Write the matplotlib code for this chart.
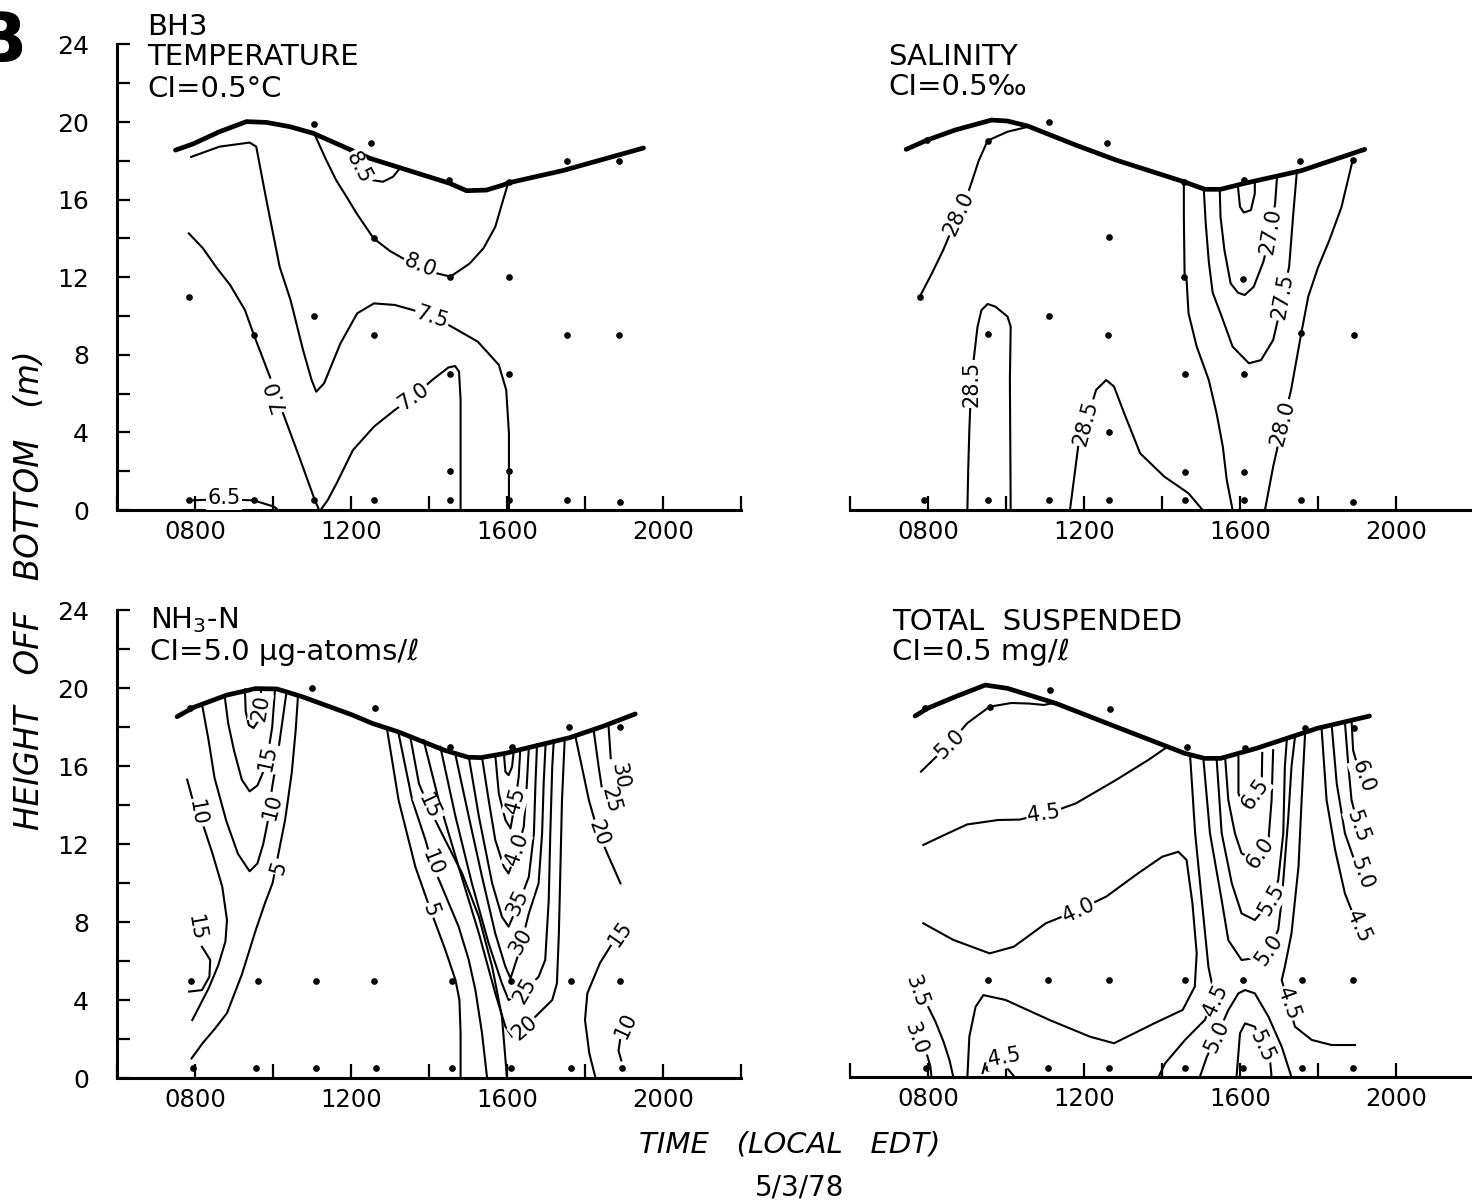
import numpy as np
import matplotlib.pyplot as plt

plt.rcParams['font.family'] = ['DejaVu Sans']

# ---------------- data (time in hours, height off bottom in m) ----------------
xtick_vals = [8, 12, 16, 20]
xtick_text = ['0800', '1200', '1600', '2000']
ytick_vals = [0, 4, 8, 12, 16, 20, 24]

# --- temperature panel
temp_title = ['BH3', 'TEMPERATURE', 'CI=0.5°C']
temp_surf_t = [7.5, 7.95, 8.63, 9.32, 9.83, 10.43, 11.03, 12.48, 14.53, 14.96, 15.47, 15.9, 16.03, 17.44, 19.5]
temp_surf_h = [18.55, 18.87, 19.5, 20.02, 19.98, 19.76, 19.42, 18.13, 16.84, 16.46, 16.49, 16.75, 16.86, 17.5, 18.66]
temp_dot_t = [7.85, 7.85, 9.5, 9.5, 11.05, 11.05, 11.05, 12.5, 12.6, 12.6, 12.6, 14.5, 14.55, 14.55, 14.55, 14.55,
              16.05, 16.05, 16.05, 16.05, 16.05, 17.53, 17.53, 17.53, 18.87, 18.87, 18.9]
temp_dot_h = [11.0, 0.5, 9.0, 0.5, 19.9, 10.0, 0.5, 18.9, 14.0, 9.0, 0.5, 17.0, 12.0, 7.0, 2.0, 0.5,
              16.9, 12.0, 7.0, 2.0, 0.5, 18.0, 9.0, 0.5, 18.0, 9.0, 0.4]
temp_85_t = [11.97, 12.1, 12.3, 12.56, 12.82, 13.08, 13.25]
temp_85_h = [18.5, 17.9, 17.3, 17.0, 16.92, 17.18, 17.6]
temp_80_t = [11.07, 11.35, 11.62, 11.9, 12.14, 12.58, 13.0, 13.33, 13.78, 14.2, 14.55, 15.04, 15.4, 15.7, 15.9, 16.03]
temp_80_h = [19.35, 18.1, 17.0, 16.1, 15.3, 14.0, 13.35, 12.97, 12.6, 12.2, 12.03, 12.7, 13.5, 14.6, 15.98, 16.86]
temp_75_t = [7.9, 8.63, 9.4, 9.57, 9.83, 10.17, 10.45, 10.77, 10.99, 11.11, 11.31, 11.73, 12.16, 12.59, 13.12,
             13.6, 14.08, 14.5, 15.25, 15.79, 15.98, 16.05, 16.05]
temp_75_h = [18.2, 18.73, 18.94, 18.73, 15.98, 12.54, 10.82, 8.25, 6.7, 6.1, 6.53, 8.59, 10.14, 10.65, 10.57,
             10.3, 9.95, 9.54, 8.68, 7.48, 6.19, 3.95, 0.0]
temp_70a_t = [7.84, 8.2, 8.55, 8.9, 9.28, 9.51, 9.92, 10.1, 10.29, 10.67, 11.04, 11.18]
temp_70a_h = [14.26, 13.5, 12.5, 11.6, 10.31, 9.02, 6.87, 5.85, 4.81, 2.75, 0.69, 0.0]
temp_70b_t = [11.22, 11.4, 11.63, 12.05, 12.59, 13.12, 13.55, 14.08, 14.5, 14.67, 14.77, 14.81, 14.81]
temp_70b_h = [0.0, 0.5, 1.37, 3.09, 4.3, 5.15, 5.75, 6.7, 7.35, 7.42, 7.13, 5.67, 0.0]
temp_65_t = [7.95, 8.6, 9.5, 10.03, 10.13]
temp_65_h = [0.5, 0.55, 0.5, 0.17, 0.0]
temp_labels = [('8.5', 12.2, 17.65, -62), ('8.0', 13.78, 12.6, -22), ('7.5', 14.08, 9.95, -18),
               ('7.0', 10.08, 5.9, 107), ('7.0', 13.6, 5.85, 35), ('6.5', 8.75, 0.6, 0)]

# --- salinity panel
sal_title = ['SALINITY', 'CI=0.5‰']
sal_surf_t = [7.44, 7.98, 8.7, 9.63, 10.04, 10.56, 11.79, 12.82, 14.56, 15.1, 15.5, 16.12, 17.57, 19.2]
sal_surf_h = [18.59, 19.07, 19.59, 20.1, 20.05, 19.79, 18.81, 18.04, 16.92, 16.53, 16.53, 16.84, 17.49, 18.59]
sal_dot_t = [7.8, 7.9, 7.98, 9.53, 9.55, 9.55, 11.1, 11.1, 11.1, 12.6, 12.65, 12.62, 12.65, 12.65,
             14.57, 14.57, 14.58, 14.6, 14.58, 16.1, 16.07, 16.09, 16.1, 16.1, 17.55, 17.57, 17.57, 18.9, 18.93, 18.9]
sal_dot_h = [11.0, 0.5, 19.05, 19.04, 9.05, 0.5, 20.0, 10.0, 0.5, 18.9, 14.05, 9.0, 4.0, 0.5,
             16.9, 12.0, 7.0, 1.95, 0.5, 17.0, 11.9, 7.0, 1.95, 0.5, 18.0, 9.1, 0.5, 18.05, 9.0, 0.4]
sal_280a_t = [7.79, 8.1, 8.39, 8.6, 8.8, 9.0, 9.11, 9.3, 9.53, 10.04, 10.56]
sal_280a_h = [11.0, 12.2, 13.4, 14.4, 15.3, 16.2, 16.84, 18.0, 19.04, 19.5, 19.75]
sal_285a_t = [9.01, 9.03, 9.06, 9.11, 9.27, 9.37, 9.53, 9.73, 10.04, 10.12, 10.1, 10.12]
sal_285a_h = [0.0, 2.0, 4.12, 6.7, 9.45, 10.3, 10.62, 10.48, 9.97, 9.45, 6.7, 0.0]
sal_285b_t = [11.64, 11.74, 11.85, 12.05, 12.31, 12.57, 12.77, 13.03, 13.44, 14.06, 14.68, 15.04]
sal_285b_h = [0.0, 1.55, 3.26, 4.47, 6.19, 6.7, 6.36, 4.99, 2.92, 1.72, 0.86, 0.0]
sal_280b_t = [14.56, 14.56, 14.58, 14.63, 14.68, 14.89, 15.2, 15.4, 15.56, 15.66, 15.81]
sal_280b_h = [16.92, 15.12, 12.03, 11.86, 10.14, 8.42, 6.7, 4.98, 3.26, 1.55, 0.0]
sal_280c_t = [16.64, 16.85, 17.1, 17.31, 17.57, 17.75, 18.0, 18.29, 18.6, 18.89]
sal_280c_h = [0.0, 2.23, 4.47, 6.19, 9.1, 11.0, 12.5, 13.9, 15.6, 18.04]
sal_275_t = [15.07, 15.12, 15.2, 15.3, 15.5, 15.81, 16.23, 16.54, 16.85, 16.95, 17.1, 17.26, 17.36, 17.46]
sal_275_h = [16.6, 14.8, 12.8, 11.2, 10.14, 8.42, 7.56, 7.73, 8.76, 9.62, 11.0, 12.54, 15.12, 17.5]
sal_270_t = [15.48, 15.5, 15.6, 15.76, 15.95, 16.12, 16.35, 16.6, 16.79, 16.9, 16.95]
sal_270_h = [16.53, 15.12, 13.4, 11.68, 11.2, 11.08, 11.5, 12.8, 14.35, 15.8, 17.18]
sal_265_t = [15.95, 16.0, 16.1, 16.28, 16.38, 16.38]
sal_265_h = [16.62, 15.63, 15.33, 15.46, 16.32, 16.9]
sal_labels = [('28.0', 8.8, 15.3, 65), ('28.5', 9.11, 6.5, 90), ('28.5', 12.05, 4.5, 75),
              ('28.0', 17.1, 4.5, 75), ('27.5', 17.1, 11.0, 80), ('27.0', 16.79, 14.35, 80)]

# --- ammonia panel
nh3_title = ['NH$_3$-N', 'CI=5.0 μg-atoms/ℓ']
nh3_surf_t = [7.54, 7.97, 8.82, 9.56, 10.1, 10.74, 12.03, 12.54, 13.2, 14.38, 15.0, 15.33, 15.96, 16.3, 17.6, 18.44, 19.29]
nh3_surf_h = [18.53, 19.01, 19.64, 19.97, 19.95, 19.56, 18.62, 18.19, 17.76, 16.82, 16.45, 16.43, 16.65, 16.82, 17.45, 18.02, 18.67]
nh3_dot_t = [7.86, 11.01, 12.61, 14.54, 16.14, 17.58, 18.9,
             7.89, 9.62, 11.09, 12.6, 14.6, 16.11, 17.63, 18.89,
             7.94, 9.56, 11.09, 12.64, 14.59, 16.1, 17.63, 18.94]
nh3_dot_h = [18.96, 19.98, 18.96, 16.99, 16.99, 18.02, 17.98,
             5.0, 5.0, 5.0, 5.0, 5.0, 5.0, 5.0, 5.0,
             0.5, 0.5, 0.5, 0.5, 0.5, 0.5, 0.5, 0.5]
nh3_20a_t = [9.28, 9.3, 9.38, 9.5, 9.62, 9.7]
nh3_20a_h = [19.93, 18.8, 18.1, 17.95, 18.3, 19.96]
nh3_15a_t = [8.76, 8.85, 9.0, 9.2, 9.4, 9.6, 9.75, 9.86, 9.98, 10.05]
nh3_15a_h = [19.6, 18.2, 16.8, 15.3, 14.7, 15.0, 15.7, 16.5, 18.0, 19.9]
nh3_10a_t = [7.8, 7.95, 8.17, 8.45, 8.7, 8.82, 8.78, 8.6, 8.35, 7.93]
nh3_10a_h = [15.3, 14.2, 13.2, 11.5, 9.8, 8.1, 7.0, 5.8, 4.6, 2.97]
nh3_10b_t = [8.18, 8.35, 8.5, 8.8, 9.1, 9.4, 9.6, 9.75, 9.87, 9.97, 10.15, 10.35]
nh3_10b_h = [19.17, 17.3, 15.4, 13.2, 11.5, 10.6, 11.0, 12.0, 13.2, 14.8, 17.0, 19.85]
nh3_15b_t = [8.18, 8.39, 8.37, 8.18, 7.85]
nh3_15b_h = [6.73, 6.05, 5.2, 4.51, 4.43]
nh3_5a_t = [7.91, 8.2, 8.5, 8.82, 9.2, 9.56, 9.8, 9.99, 10.31, 10.48, 10.58, 10.64]
nh3_5a_h = [1.0, 1.8, 2.5, 3.33, 5.3, 7.6, 9.0, 10.0, 13.23, 15.64, 17.8, 19.56]
nh3_5b_t = [12.92, 13.22, 13.65, 14.04, 14.42, 14.68, 14.78, 14.81, 14.81]
nh3_5b_h = [17.94, 14.25, 10.83, 8.61, 6.56, 5.02, 4.0, 2.29, 0.0]
nh3_10c_t = [13.22, 13.57, 13.91, 14.08, 14.33, 14.76, 15.02, 15.19, 15.36, 15.49]
nh3_10c_h = [17.67, 14.25, 12.2, 11.0, 9.81, 7.76, 6.05, 4.51, 2.29, 0.0]
nh3_15c_t = [13.52, 13.74, 13.99, 14.33, 14.85, 15.28, 15.62, 15.87, 16.0]
nh3_15c_h = [17.5, 15.11, 13.91, 12.54, 10.49, 8.27, 5.7, 3.14, 0.0]
nh3_20b_t = [13.86, 14.25, 14.76, 15.28, 15.7, 15.96, 16.13, 16.43, 16.81, 17.16, 17.28, 17.33, 17.37, 17.41, 17.48]
nh3_20b_h = [17.33, 14.25, 10.83, 7.41, 4.34, 2.63, 2.12, 2.54, 3.31, 4.0, 4.85, 7.41, 10.83, 14.25, 17.4]
nh3_25_t = [14.29, 14.68, 15.1, 15.53, 15.87, 16.04, 16.47, 16.81, 16.98, 17.07, 17.11, 17.16, 17.2]
nh3_25_h = [16.99, 13.4, 9.98, 6.9, 4.85, 4.0, 4.51, 5.19, 6.05, 9.12, 12.54, 15.96, 17.33]
nh3_30_t = [14.68, 15.02, 15.36, 15.7, 15.96, 16.09, 16.3, 16.56, 16.81, 16.9, 16.94, 16.99]
nh3_30_h = [16.56, 13.4, 10.32, 7.41, 5.7, 5.11, 6.39, 8.44, 9.98, 12.54, 15.11, 17.16]
nh3_35_t = [15.02, 15.28, 15.62, 15.87, 16.04, 16.3, 16.56, 16.69, 16.73, 16.77]
nh3_35_h = [16.47, 13.4, 9.98, 8.27, 7.76, 8.95, 10.32, 12.54, 15.11, 17.1]
nh3_40_t = [15.36, 15.53, 15.7, 15.92, 16.04, 16.26, 16.43, 16.51, 16.56]
nh3_40_h = [16.43, 14.25, 12.2, 10.83, 10.49, 11.69, 12.88, 15.11, 16.99]
nh3_45_t = [15.7, 15.79, 15.96, 16.09, 16.22, 16.3, 16.34]
nh3_45_h = [16.55, 14.59, 13.23, 12.8, 14.25, 15.45, 16.82]
nh3_50_t = [15.92, 15.96, 16.04, 16.13, 16.17]
nh3_50_h = [16.63, 15.7, 15.53, 15.96, 16.72]
nh3_30r_t = [18.6, 18.66]
nh3_30r_h = [18.15, 16.4]
nh3_25r_t = [18.22, 18.35, 18.44, 18.65]
nh3_25r_h = [17.87, 15.96, 14.76, 14.25]
nh3_20r_t = [17.75, 17.92, 18.1, 18.22, 18.35, 18.57, 18.91]
nh3_20r_h = [17.55, 15.96, 14.25, 13.4, 12.54, 11.52, 9.98]
nh3_15r_t = [18.27, 18.11, 18.0, 18.06, 18.38, 18.7]
nh3_15r_h = [0.0, 1.27, 2.97, 4.34, 5.88, 6.91]
nh3_10r_t = [18.93, 18.86, 18.9]
nh3_10r_h = [0.9, 1.4, 1.95]
nh3_labels = [('20', 9.68, 19.0, 80), ('15', 9.86, 16.4, 78), ('10', 9.97, 13.9, 75), ('5', 10.15, 10.8, 72),
              ('10', 8.05, 13.6, -80), ('15', 8.02, 7.67, -80),
              ('5', 14.04, 8.6, -70), ('10', 14.08, 11.0, -68), ('15', 13.99, 13.9, -65),
              ('20', 16.45, 2.55, 40), ('25', 16.45, 4.5, 60), ('30', 16.35, 7.0, 60),
              ('35', 16.28, 9.0, 65), ('4.0', 16.25, 11.7, 70), ('45', 16.22, 14.2, 75),
              ('30', 18.88, 15.5, -80), ('25', 18.65, 14.25, -75), ('20', 18.35, 12.54, -70),
              ('15', 18.9, 7.42, 55), ('10', 19.05, 2.7, 65)]

# --- total suspended panel
tss_title = ['TOTAL  SUSPENDED', 'CI=0.5 mg/ℓ']
tss_surf_t = [7.67, 7.98, 8.7, 9.47, 10.04, 11.28, 12.82, 14.58, 15.09, 15.5, 16.43, 17.98, 19.32]
tss_surf_h = [18.51, 18.9, 19.5, 20.1, 19.93, 19.16, 17.96, 16.6, 16.34, 16.34, 16.86, 17.88, 18.51]
tss_dot_t = [7.93, 9.58, 11.12, 12.67, 14.63, 16.14, 17.67, 18.93,
             9.53, 11.07, 12.63, 14.6, 16.07, 17.6, 18.89,
             7.95, 9.53, 11.07, 12.63, 14.6, 16.07, 17.6, 18.89]
tss_dot_h = [18.9, 18.99, 19.85, 18.87, 16.94, 16.86, 17.88, 17.88,
             4.97, 4.97, 4.97, 4.97, 4.97, 4.97, 4.97,
             0.46, 0.46, 0.46, 0.46, 0.46, 0.46, 0.46, 0.46]
tss_50a_t = [7.82, 8.2, 8.55, 9.01, 9.58, 10.14, 10.6, 10.97, 11.28]
tss_50a_h = [15.66, 16.4, 17.1, 18.15, 18.99, 19.18, 19.15, 19.08, 19.2]
tss_45a_t = [7.88, 8.3, 9.0, 9.8, 10.35, 10.97, 11.4, 11.79, 12.82, 13.65, 14.15]
tss_45a_h = [11.9, 12.3, 12.95, 13.18, 13.2, 13.5, 13.75, 14.03, 15.23, 16.26, 16.95]
tss_40_t = [7.88, 8.65, 9.58, 10.2, 11.02, 11.85, 12.57, 13.39, 14.01, 14.42, 14.63, 14.78, 14.89, 14.84,
            14.53, 13.8, 12.77, 12.15, 11.12, 9.99, 9.42, 9.22, 9.06, 9.01]
tss_40_h = [7.88, 7.03, 6.34, 6.68, 7.88, 8.56, 9.25, 10.45, 11.3, 11.55, 11.13, 8.91, 6.34, 4.63,
            3.44, 2.75, 1.73, 2.07, 2.92, 3.95, 4.2, 3.6, 2.07, 0.0]
tss_35_t = [7.98, 8.2, 8.4, 8.55, 8.65]
tss_35_h = [3.7, 2.8, 1.8, 0.87, 0.0]
tss_30_t = [7.98, 8.06, 8.09]
tss_30_h = [1.1, 0.55, 0.0]
tss_45b_t = [9.4, 9.47]
tss_45b_h = [0.2, 0.7]
tss_45f_t = [9.97, 10.22]
tss_45f_h = [0.6, 0.0]
tss_45c_t = [13.91, 14.08, 14.59, 15.1, 15.3, 15.3, 15.19, 15.02, 14.85, 14.72]
tss_45c_h = [0.0, 0.7, 1.9, 2.93, 3.9, 4.6, 5.65, 9.07, 12.5, 16.51]
tss_45d_t = [17.67, 17.58, 17.5, 17.32, 17.15, 17.07, 17.24, 17.41, 17.84, 18.35, 18.95]
tss_45d_h = [17.68, 14.2, 10.78, 7.36, 5.65, 4.97, 3.77, 2.58, 1.9, 1.64, 1.64]
tss_50b_t = [15.06, 15.23, 15.53, 15.7, 16.04, 16.4, 16.73, 16.98, 17.07, 17.24, 17.32, 17.41]
tss_50b_h = [16.35, 12.5, 9.07, 7.02, 6.0, 6.1, 6.51, 7.54, 9.07, 13.35, 15.91, 17.45]
tss_50c_t = [14.97, 15.15, 15.4, 15.7, 15.96, 16.13, 16.38, 16.73, 17.07, 17.32]
tss_50c_h = [0.0, 1.04, 2.07, 3.43, 4.29, 4.46, 4.29, 3.09, 1.55, 0.0]
tss_55a_t = [15.91, 16.0, 16.13, 16.38, 16.56, 16.77, 16.81]
tss_55a_h = [0.0, 2.24, 2.75, 2.58, 1.55, 0.87, 0.0]
tss_55b_t = [15.4, 15.53, 15.79, 16.04, 16.38, 16.81, 16.98, 17.11, 17.15, 17.2]
tss_55b_h = [16.34, 12.5, 9.93, 8.39, 8.05, 9.07, 10.1, 12.5, 15.91, 17.3]
tss_60a_t = [15.62, 15.7, 15.87, 16.04, 16.21, 16.51, 16.73, 16.81, 16.85]
tss_60a_h = [16.36, 14.2, 12.5, 11.47, 11.3, 11.47, 12.15, 14.2, 16.76]
tss_65_t = [15.96, 15.96, 16.09, 16.38, 16.56, 16.57]
tss_65_h = [16.42, 14.54, 13.94, 14.54, 15.4, 16.62]
tss_45e_t = [18.09, 18.22, 18.44, 18.69, 18.85]
tss_45e_h = [17.93, 14.2, 11.64, 9.41, 8.6]
tss_50d_t = [18.35, 18.48, 18.69, 18.9]
tss_50d_h = [18.05, 15.06, 12.5, 11.3]
tss_55c_t = [18.69, 18.78, 18.86, 18.95]
tss_55c_h = [18.2, 15.91, 14.2, 13.5]
tss_60c_t = [18.86, 18.9, 18.98]
tss_60c_h = [18.28, 16.76, 16.2]
tss_labels = [('5.0', 8.55, 17.1, 45), ('4.5', 10.97, 13.5, 8), ('4.0', 11.85, 8.56, 25),
              ('3.5', 7.72, 4.4, -70), ('3.0', 7.68, 1.95, -70), ('4.5', 9.95, 1.0, 10),
              ('4.5', 15.38, 3.9, 65), ('5.0', 15.4, 2.07, 65), ('5.5', 16.56, 1.55, -65),
              ('5.0', 16.73, 6.5, 55), ('5.5', 16.81, 9.07, 60), ('6.0', 16.51, 11.5, 55),
              ('6.5', 16.38, 14.5, 55), ('4.5', 17.24, 3.77, -70),
              ('4.5', 19.03, 7.7, -65), ('5.0', 19.12, 10.44, -70), ('5.5', 19.03, 12.83, -70),
              ('6.0', 19.16, 15.4, -70)]

# ---------------- figure ----------------
W, H = 1472, 1204
fig = plt.figure(figsize=(W / 100, H / 100), dpi=100)


def make_axes(left_px, zero_py, top_py):
    return fig.add_axes([left_px / W, 1 - zero_py / H, 624 / W, (zero_py - top_py) / H])


def style(ax, show_y):
    ax.set_xlim(6, 22)
    ax.set_ylim(0, 24)
    for s in ['top', 'right']:
        ax.spines[s].set_visible(False)
    ax.spines['bottom'].set_linewidth(2.2)
    ax.spines['left'].set_linewidth(2.2)
    ax.set_xticks(xtick_vals, labels=xtick_text)
    ax.set_xticks([6, 10, 14, 18, 22], minor=True)
    ax.tick_params(axis='x', which='both', direction='in', length=10, width=1.6,
                   labelsize=17.5, pad=7)
    if show_y:
        ax.set_yticks(ytick_vals)
        ax.set_yticks(np.arange(2, 24, 4), minor=True)
        ax.tick_params(axis='y', which='both', direction='in', length=9, width=1.6,
                       labelsize=18, pad=20)
    else:
        ax.spines['left'].set_visible(False)
        ax.tick_params(axis='y', which='both', left=False, labelleft=False)


def title(ax, lines, left_px, baselines):
    t0 = 6 + (left_px - ax_left[ax]) / 39.0
    for s, hb in zip(lines, baselines):
        ax.text(t0, hb, s, fontsize=21, ha='left', va='baseline', clip_on=False)


def draw(ax, surf_t, surf_h, dot_t, dot_h, lines, labels):
    ax.plot(surf_t, surf_h, color='black', lw=3.4, solid_capstyle='round', zorder=3)
    for lt, lh in lines:
        ax.plot(lt, lh, color='black', lw=1.5, solid_joinstyle='round', zorder=2)
    ax.plot(dot_t, dot_h, 'o', color='black', ms=3.8, ls='none', zorder=3)
    for s, t, h, r in labels:
        ax.text(t, h, s, fontsize=15, rotation=r, rotation_mode='anchor', ha='center', va='center',
                zorder=4, bbox=dict(boxstyle='square,pad=0.06', fc='white', ec='none'))


ax_t = make_axes(117, 510, 44.4)
ax_s = make_axes(850, 510, 44.4)
ax_n = make_axes(117, 1078, 610)
ax_m = make_axes(850, 1077, 609)
ax_left = {ax_t: 117, ax_s: 850, ax_n: 117, ax_m: 850}

style(ax_t, True)
style(ax_s, False)
style(ax_n, True)
style(ax_m, False)

draw(ax_t, temp_surf_t, temp_surf_h, temp_dot_t, temp_dot_h,
     [(temp_85_t, temp_85_h), (temp_80_t, temp_80_h), (temp_75_t, temp_75_h),
      (temp_70a_t, temp_70a_h), (temp_70b_t, temp_70b_h), (temp_65_t, temp_65_h)], temp_labels)
draw(ax_s, sal_surf_t, sal_surf_h, sal_dot_t, sal_dot_h,
     [(sal_280a_t, sal_280a_h), (sal_285a_t, sal_285a_h), (sal_285b_t, sal_285b_h),
      (sal_280b_t, sal_280b_h), (sal_280c_t, sal_280c_h), (sal_275_t, sal_275_h),
      (sal_270_t, sal_270_h), (sal_265_t, sal_265_h)], sal_labels)
draw(ax_n, nh3_surf_t, nh3_surf_h, nh3_dot_t, nh3_dot_h,
     [(nh3_20a_t, nh3_20a_h), (nh3_15a_t, nh3_15a_h), (nh3_10a_t, nh3_10a_h), (nh3_10b_t, nh3_10b_h),
      (nh3_15b_t, nh3_15b_h), (nh3_5a_t, nh3_5a_h), (nh3_5b_t, nh3_5b_h), (nh3_10c_t, nh3_10c_h),
      (nh3_15c_t, nh3_15c_h), (nh3_20b_t, nh3_20b_h), (nh3_25_t, nh3_25_h), (nh3_30_t, nh3_30_h),
      (nh3_35_t, nh3_35_h), (nh3_40_t, nh3_40_h), (nh3_45_t, nh3_45_h), (nh3_50_t, nh3_50_h),
      (nh3_30r_t, nh3_30r_h), (nh3_25r_t, nh3_25r_h), (nh3_20r_t, nh3_20r_h),
      (nh3_15r_t, nh3_15r_h), (nh3_10r_t, nh3_10r_h)], nh3_labels)
draw(ax_m, tss_surf_t, tss_surf_h, tss_dot_t, tss_dot_h,
     [(tss_50a_t, tss_50a_h), (tss_45a_t, tss_45a_h), (tss_40_t, tss_40_h), (tss_35_t, tss_35_h),
      (tss_30_t, tss_30_h), (tss_45b_t, tss_45b_h), (tss_45f_t, tss_45f_h), (tss_45c_t, tss_45c_h),
      (tss_45d_t, tss_45d_h), (tss_50b_t, tss_50b_h), (tss_50c_t, tss_50c_h), (tss_55a_t, tss_55a_h),
      (tss_55b_t, tss_55b_h), (tss_60a_t, tss_60a_h), (tss_65_t, tss_65_h), (tss_45e_t, tss_45e_h),
      (tss_50d_t, tss_50d_h), (tss_55c_t, tss_55c_h), (tss_60c_t, tss_60c_h)], tss_labels)

title(ax_t, temp_title, 147, [24.5, 22.94, 21.29])
title(ax_s, sal_title, 888, [22.94, 21.39])
title(ax_n, nh3_title, 150, [23.08, 21.44])
title(ax_m, tss_title, 892, [22.9, 21.4])

fig.text(27 / W, 1 - 62 / H, 'B', fontsize=50, fontweight='bold', ha='right', va='baseline')
fig.text(30 / W, 1 - 590 / H, 'HEIGHT   OFF   BOTTOM   (m)', rotation=90, style='italic',
         fontsize=23.5, ha='center', va='center')
fig.text(790 / W, 1 - 1153 / H, 'TIME   (LOCAL   EDT)', style='italic', fontsize=21,
         ha='center', va='baseline')
fig.text(800 / W, 1 - 1195 / H, '5/3/78', fontsize=20, ha='center', va='baseline')

fig.savefig('out.png', dpi=100, facecolor='white')
